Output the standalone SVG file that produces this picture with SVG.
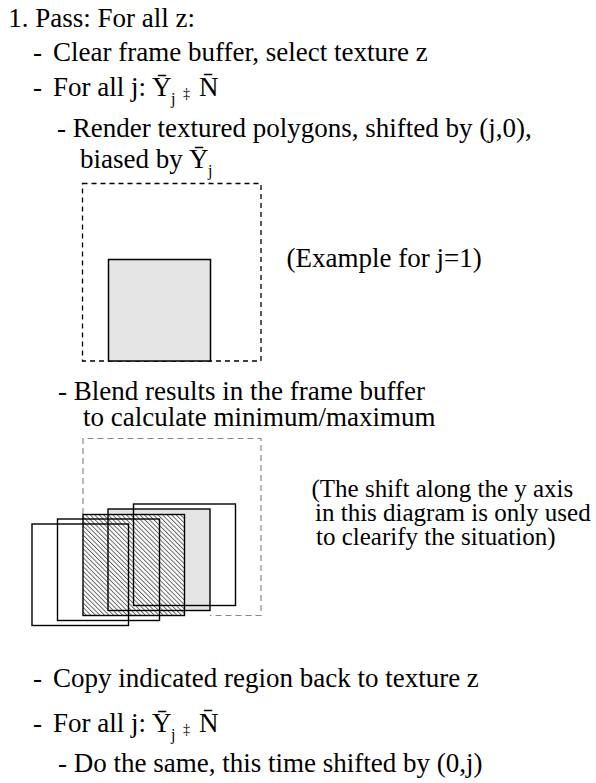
<svg xmlns="http://www.w3.org/2000/svg" width="596" height="783" viewBox="0 0 596 783">
<style>
text{font-family:"Liberation Serif","Times New Roman",serif;fill:#000;}
.t{font-size:27px;}
.n{font-size:25px;}
.sub{font-size:16px;}
.dd{font-size:14px;}
.poly{fill:none;stroke:#000;stroke-width:1.4;}
</style>
<defs>
<pattern id="hatch" width="3.2" height="3.2" patternUnits="userSpaceOnUse" patternTransform="rotate(-45)">
<rect width="3.2" height="3.2" fill="#fff"/>
<line x1="0.5" y1="0" x2="0.5" y2="3.2" stroke="#444" stroke-width="0.8"/>
</pattern>
</defs>
<rect width="596" height="783" fill="#fff"/>

<g id="text-top">
<text class="t" x="8.3" y="27">1. Pass: For all z:</text>
<text class="t" x="33" y="61">-</text>
<text class="t" x="53" y="61">Clear frame buffer, select texture z</text>
<text class="t" x="33" y="96">-</text>
<text class="t" x="53" y="96">For all j:</text>
<text class="t" x="152" y="96">Ȳ</text>
<text class="sub" x="171" y="104">j</text>
<text class="dd" x="183" y="98">‡</text>
<text class="t" x="199" y="96">N̄</text>
<text class="t" x="57" y="137">- Render textured polygons, shifted by (j,0),</text>
<text class="t" x="80" y="168">biased by</text>
<text class="t" x="189" y="168">Ȳ</text>
<text class="sub" x="208" y="176">j</text>
</g>

<g id="example-1">
<rect x="82.5" y="183.5" width="178.5" height="177.5" fill="none" stroke="#000" stroke-width="1.3" stroke-dasharray="5,4"/>
<rect x="108.5" y="259.5" width="102" height="101.5" fill="#e5e5e5" stroke="#000" stroke-width="1.5"/>
<text class="t" x="286.5" y="267">(Example for j=1)</text>
</g>

<g id="text-blend">
<text class="t" x="58" y="400">- Blend results in the frame buffer</text>
<text class="t" x="83" y="426">to calculate minimum/maximum</text>
</g>

<g id="example-2">
<rect x="108" y="509" width="102" height="101.5" fill="#e5e5e5"/>
<rect x="83" y="514.5" width="101.5" height="101" fill="url(#hatch)"/>
<path d="M83,514 V438.5 H261 V615.5 H210" fill="none" stroke="#888" stroke-width="1.2" stroke-dasharray="6,4"/>
<rect class="poly" x="32" y="524" width="96.5" height="101.5"/>
<rect class="poly" x="57.5" y="519" width="102" height="101.5"/>
<rect class="poly" x="83" y="514.5" width="101.5" height="101"/>
<rect class="poly" x="108" y="509" width="102" height="101.5"/>
<rect class="poly" x="133.5" y="504" width="102" height="101.5"/>
<text class="n" x="311.5" y="497">(The shift along the y axis</text>
<text class="n" x="315" y="521">in this diagram is only used</text>
<text class="n" x="316" y="545">to clearify the situation)</text>
</g>

<g id="text-bottom">
<text class="t" x="33" y="687">-</text>
<text class="t" x="53" y="687">Copy indicated region back to texture z</text>
<text class="t" x="33" y="732">-</text>
<text class="t" x="53" y="732">For all j:</text>
<text class="t" x="152" y="732">Ȳ</text>
<text class="sub" x="171" y="740">j</text>
<text class="dd" x="183" y="734">‡</text>
<text class="t" x="199" y="732">N̄</text>
<text class="t" x="58" y="772">- Do the same, this time shifted by (0,j)</text>
</g>
</svg>
